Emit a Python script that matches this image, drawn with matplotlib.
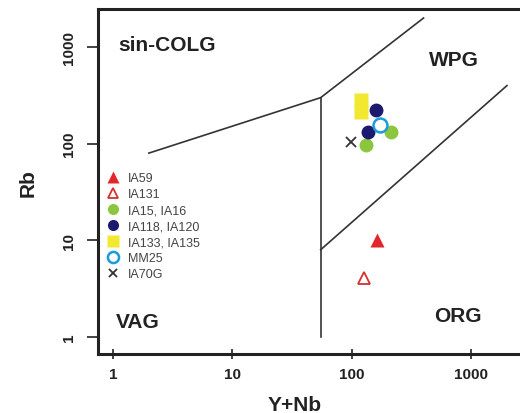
import matplotlib
matplotlib.use("Agg")
import matplotlib.pyplot as plt
import numpy as np

plt.rcParams['font.family'] = ['Liberation Sans', 'DejaVu Sans']

# field boundaries (Pearce et al. 1984), Y+Nb vs Rb
bound_a_x = [2, 55, 400]
bound_a_y = [80, 300, 2000]
bound_b_x = [55, 55]
bound_b_y = [300, 1]
bound_c_x = [55, 2000]
bound_c_y = [8, 400]

# samples
ia59_x, ia59_y = [163], [10]
ia131_x, ia131_y = [127], [4.1]
ia15_x, ia15_y = [132, 214], [96, 131]
ia118_x, ia118_y = [160, 137], [222, 131]
ia133_x, ia133_y = [120, 120], [282, 212]
mm25_x, mm25_y = [173], [155]
ia70_x, ia70_y = [99], [104]

xticks = [1, 10, 100, 1000]
yticks = [1, 10, 100, 1000]

fig = plt.figure(figsize=(5.2, 4.14), dpi=100)
ax = fig.add_axes([98 / 520, 59 / 414, 430 / 520, 345 / 414])
ax.set_xscale('log')
ax.set_yscale('log')
ax.set_xlim(0.75, 3000)
ax.set_ylim(0.667, 2480)

lc = '#333333'
ax.plot(bound_a_x, bound_a_y, color=lc, lw=1.2)
ax.plot(bound_b_x, bound_b_y, color=lc, lw=1.2)
ax.plot(bound_c_x, bound_c_y, color=lc, lw=1.2)

ms = 10
ax.plot(ia133_x, ia133_y, 's', color='#f2e830', ms=ms, mec='none', label='IA133, IA135', zorder=3)
ax.plot(ia70_x, ia70_y, 'x', color='#333333', ms=7, mew=1.3, label='IA70G', zorder=3)
ax.plot(ia15_x, ia15_y, 'o', color='#8cc63e', ms=ms, mec='none', label='IA15, IA16', zorder=3)
ax.plot(ia118_x, ia118_y, 'o', color='#1c1a6e', ms=ms, mec='none', label='IA118, IA120', zorder=4)
ax.plot(mm25_x, mm25_y, 'o', mfc='white', mec='#1a9cd8', mew=1.8, ms=ms, label='MM25', zorder=5)
ax.plot(ia59_x, ia59_y, '^', color='#e3262b', ms=ms, mec='none', label='IA59', zorder=3)
ax.plot(ia131_x, ia131_y, '^', mfc='white', mec='#d6302e', mew=1.3, ms=ms - 1, label='IA131', zorder=3)

# legend order as in the figure
handles, labels = ax.get_legend_handles_labels()
order = ['IA59', 'IA131', 'IA15, IA16', 'IA118, IA120', 'IA133, IA135', 'MM25', 'IA70G']
hmap = dict(zip(labels, handles))
leg = ax.legend([hmap[k] for k in order], order, loc='upper left',
                bbox_to_anchor=(0.005, 0.548), frameon=False, fontsize=9,
                markerscale=0.8, handlelength=0.8, handletextpad=0.8,
                labelspacing=0.32, borderaxespad=0.2)
for t in leg.get_texts():
    t.set_color('#444444')

fs = 15
ax.text(1.12, 1070, 'sin-COLG', fontsize=fs, fontweight='bold', ha='left', va='center', color='#222222')
ax.text(446, 751, 'WPG', fontsize=fs, fontweight='bold', ha='left', va='center', color='#222222')
ax.text(1.06, 1.45, 'VAG', fontsize=fs, fontweight='bold', ha='left', va='center', color='#222222')
ax.text(491, 1.67, 'ORG', fontsize=fs, fontweight='bold', ha='left', va='center', color='#222222')

ax.set_xticks(xticks)
ax.set_xticklabels([str(v) for v in xticks], fontweight='bold', fontsize=11)
ax.set_yticks(yticks)
ax.set_yticklabels([str(v) for v in yticks], fontweight='bold', fontsize=11,
                   rotation=90, va='center')
ax.minorticks_off()
ax.tick_params(axis='x', direction='inout', length=7, width=1.2, pad=6, colors='#222222')
ax.tick_params(axis='y', direction='out', length=8, width=1.2, pad=8, colors='#222222')

for s in ['left', 'bottom', 'top']:
    ax.spines[s].set_linewidth(2.2)
    ax.spines[s].set_color('#222222')
ax.spines['right'].set_visible(False)

fig.text(28 / 520, 1 - 183 / 414, 'Rb', rotation=90, fontsize=15, fontweight='bold',
         ha='center', va='center', color='#222222')
fig.text(295 / 520, 3 / 414, 'Y+Nb', fontsize=15, fontweight='bold',
         ha='center', va='baseline', color='#222222')

fig.savefig('out.png', dpi=100)
